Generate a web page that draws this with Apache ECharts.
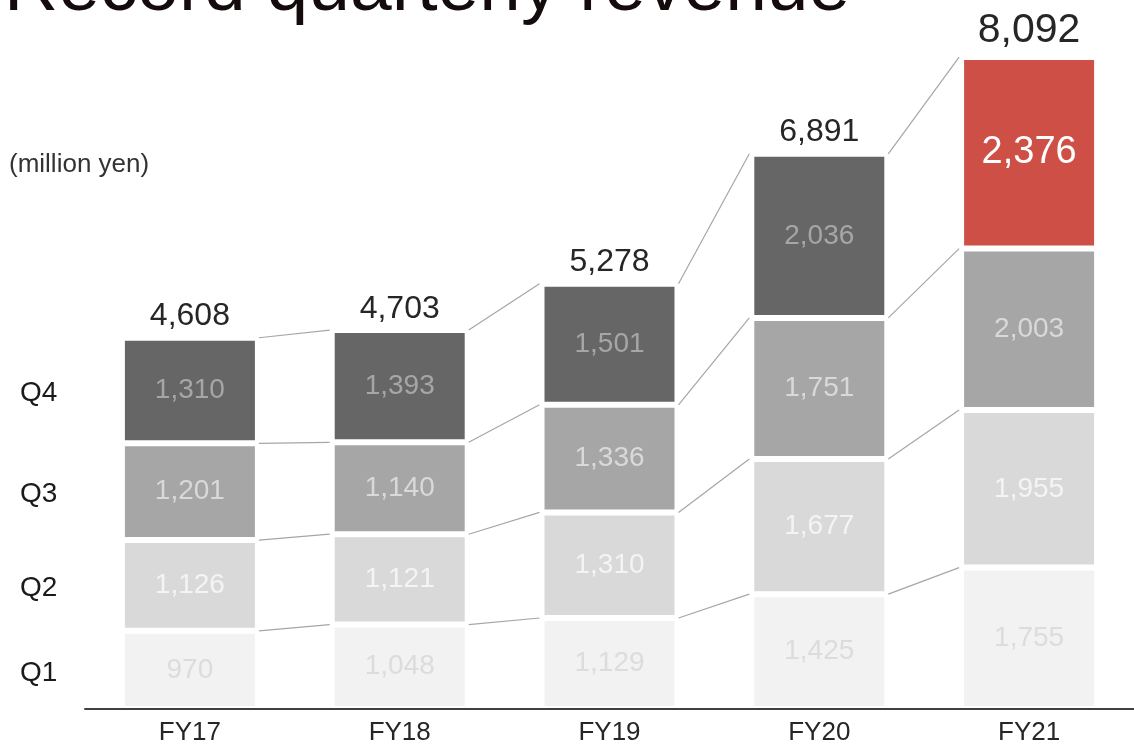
<!DOCTYPE html>
<html>
<head>
<meta charset="utf-8">
<style>
  html, body { margin: 0; padding: 0; background: #fff; }
  #chart { width: 1134px; height: 746px; }
</style>
<script src="https://cdn.jsdelivr.net/npm/echarts@6/dist/echarts.min.js"></script>
</head>
<body>
<div id="chart"></div>
<script>
// Fiscal years and quarterly revenue (million yen)
const years = ['FY17', 'FY18', 'FY19', 'FY20', 'FY21'];
const quarterNames = ['Q1', 'Q2', 'Q3', 'Q4'];
const q1 = [970, 1048, 1129, 1425, 1755];
const q2 = [1126, 1121, 1310, 1677, 1955];
const q3 = [1201, 1140, 1336, 1751, 2003];
const q4 = [1310, 1393, 1501, 2036, 2376];
const totals = [4608, 4703, 5278, 6891, 8092];

const FONT = '"Liberation Sans", Arial, sans-serif';
const BAR_W = 136;
const quarters = [q1, q2, q3, q4];
const fills = ['#f2f2f2', '#d9d9d9', '#a6a6a6', '#666666'];
const labelColors = ['#dcdcdc', '#f4f4f4', '#d9d9d9', '#a6a6a6'];
const HIGHLIGHT = '#cd4f46';

const fmt = v => String(v).replace(/\B(?=(\d{3})+(?!\d))/g, ',');

const barSeries = quarters.map((vals, qi) => ({
  type: 'bar',
  name: quarterNames[qi],
  stack: 'revenue',
  barWidth: BAR_W,
  data: vals.map((v, yi) => {
    const last = qi === 3 && yi === years.length - 1;
    return {
      value: v,
      itemStyle: { color: last ? HIGHLIGHT : fills[qi] },
      label: last ? { color: '#ffffff', fontSize: 38 } : undefined
    };
  }),
  itemStyle: { borderColor: '#ffffff', borderWidth: 3 },
  label: {
    show: true,
    position: 'inside',
    color: labelColors[qi],
    fontFamily: FONT,
    fontSize: 28,
    formatter: p => fmt(p.value)
  }
}));

// Running tops of each quarter segment, used for the connector lines
const cumTops = quarters.map((_, qi) =>
  years.map((_, yi) => quarters.slice(0, qi + 1).reduce((s, arr) => s + arr[yi], 0))
);
const connectorData = [];
cumTops.forEach(tops => {
  for (let i = 0; i < years.length - 1; i++) connectorData.push([i, tops[i], tops[i + 1]]);
});

const connectors = {
  type: 'custom',
  silent: true,
  z: 1,
  encode: { x: 0, y: 1 },
  data: connectorData,
  renderItem: (params, api) => {
    const a = api.coord([api.value(0), api.value(1)]);
    const b = api.coord([api.value(0) + 1, api.value(2)]);
    return {
      type: 'line',
      shape: { x1: a[0] + BAR_W / 2 + 1, y1: a[1], x2: b[0] - BAR_W / 2 - 2, y2: b[1] },
      style: { stroke: '#a6a6a6', lineWidth: 1.2 }
    };
  }
};

const totalLabels = {
  type: 'scatter',
  symbolSize: 0,
  silent: true,
  itemStyle: { opacity: 1 },
  data: totals.map((t, i) => ({
    value: [i, t],
    label: i === years.length - 1 ? { fontSize: 41, distance: 6 } : undefined
  })),
  label: {
    show: true,
    position: 'top',
    distance: 5,
    color: '#262626',
    fontFamily: FONT,
    fontSize: 32,
    formatter: p => fmt(totals[p.dataIndex])
  }
};

const chart = echarts.init(document.getElementById('chart'), null, { renderer: 'canvas' });

chart.setOption({
  animation: false,
  backgroundColor: '#ffffff',
  grid: { left: 85, width: 1053, top: 24, bottom: 37 },
  xAxis: {
    type: 'category',
    data: years,
    z: 10,
    axisLine: { lineStyle: { color: '#404040', width: 2 } },
    axisTick: { show: false },
    axisLabel: { color: '#262626', fontFamily: FONT, fontSize: 26, margin: 11 }
  },
  yAxis: {
    type: 'value',
    min: 0,
    max: 8500,
    show: false,
    splitLine: { show: false }
  },
  series: [connectors, ...barSeries, totalLabels]
});

// Quarter names beside the first year's segments
const qLabels = quarters.map((vals, qi) => {
  const base = quarters.slice(0, qi).reduce((s, arr) => s + arr[0], 0);
  const p = chart.convertToPixel({ gridIndex: 0 }, [0, base + vals[0] / 2]);
  return {
    type: 'text',
    x: 20,
    y: p[1] + 3,
    style: {
      text: quarterNames[qi],
      fontFamily: FONT,
      fontSize: 28,
      fill: '#1a1a1a',
      verticalAlign: 'middle'
    }
  };
});

chart.setOption({
  graphic: [
    {
      type: 'text',
      x: 4,
      y: -11,
      style: {
        text: 'Record quarterly revenue',
        fontFamily: FONT,
        fontSize: 75,
        fill: '#140c0c',
        verticalAlign: 'middle'
      }
    },
    {
      type: 'text',
      x: 9,
      y: 165,
      style: {
        text: '(million yen)',
        fontFamily: FONT,
        fontSize: 26,
        fill: '#333333',
        verticalAlign: 'middle'
      }
    },
    ...qLabels
  ]
});
</script>
</body>
</html>
